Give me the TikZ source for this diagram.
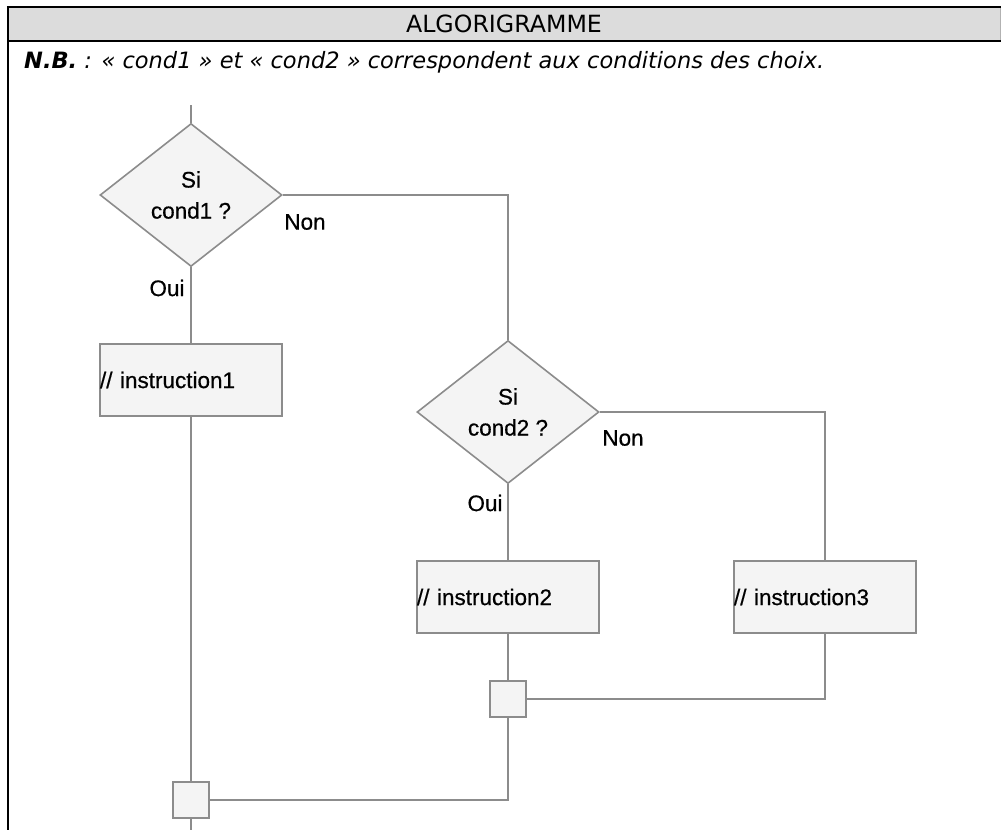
\documentclass[tikz,border=0pt]{standalone}
\usepackage{fontspec}
\setmainfont{Liberation Sans}
\newfontfamily\flowfont{Liberation Sans}[FakeBold=0.6]
\newfontfamily\headfont{DejaVu Sans}
\usetikzlibrary{shapes.geometric}
\definecolor{linegray}{HTML}{8C8C8C}
\definecolor{shapefill}{HTML}{F4F4F4}
\definecolor{headfill}{HTML}{DCDCDC}
\begin{document}
\begin{tikzpicture}[x=1pt,y=-1pt,
  flow/.style={draw=linegray, line width=1.6pt},
  decision/.style={diamond, draw=linegray, fill=shapefill, line width=1.6pt,
    inner sep=0pt, minimum width=182pt, minimum height=143pt, align=center,
    font=\flowfont\fontsize{22.5}{31}\selectfont},
  instr/.style={rectangle, draw=linegray, fill=shapefill, line width=1.6pt,
    inner sep=0pt, text width=182pt, minimum height=72pt, align=left,
    font=\flowfont\fontsize{22.5}{26}\selectfont},
  junction/.style={rectangle, draw=linegray, fill=shapefill, line width=1.6pt,
    minimum size=36pt, inner sep=0pt},
  answer/.style={font=\flowfont\fontsize{22.5}{26}\selectfont, inner sep=0pt},
  frame/.style={line width=2.2pt, draw=black}]

\useasboundingbox (0,0) rectangle (1001,830);

% table header and frame
\fill[headfill] (8,7) rectangle (1001,41);
\draw[line width=1pt, draw=black!30] (1000,7) -- (1000,41);
\draw[frame] (6.9,7) -- (1001,7);
\draw[frame] (8,41) -- (1001,41);
\draw[frame] (8,7) -- (8,830);

\node[font=\headfont\fontsize{23.7}{28}\selectfont, inner sep=0pt] (title) at (504,24) {ALGORIGRAMME};
\node[anchor=west, font=\headfont\itshape\fontsize{22.5}{26}\selectfont, inner sep=0pt] (nb) at (24,62)
  {\textbf{N.B.} : « cond1 » et « cond2 » correspondent aux conditions des choix.};

% flowchart
\coordinate (start) at (191,105);
\coordinate (end) at (191,830);

\node[decision] (d1) at (191,195) {Si\\cond1 ?};
\node[instr] (i1) at (191,380) {// instruction1};
\node[junction] (j1) at (191,800) {};

\node[decision] (d2) at (508,412) {Si\\cond2 ?};
\node[instr] (i2) at (508,597) {// instruction2};
\node[instr] (i3) at (825,597) {// instruction3};
\node[junction] (j2) at (508,699) {};

\node[answer] (non1) at (305,222) {Non};
\node[answer] (oui1) at (167,288) {Oui};
\node[answer] (non2) at (623,438) {Non};
\node[answer] (oui2) at (485,503) {Oui};

\draw[flow] (start) -- (d1.north);
\draw[flow] (d1.east) -| (d2.north);
\draw[flow] (d1.south) -- (i1.north);
\draw[flow] (i1.south) -- (j1.north);
\draw[flow] (d2.south) -- (i2.north);
\draw[flow] (d2.east) -| (i3.north);
\draw[flow] (i2.south) -- (j2.north);
\draw[flow] (i3.south) |- (j2.east);
\draw[flow] (j2.south) |- (j1.east);
\draw[flow] (j1.south) -- (end);
\end{tikzpicture}
\end{document}
